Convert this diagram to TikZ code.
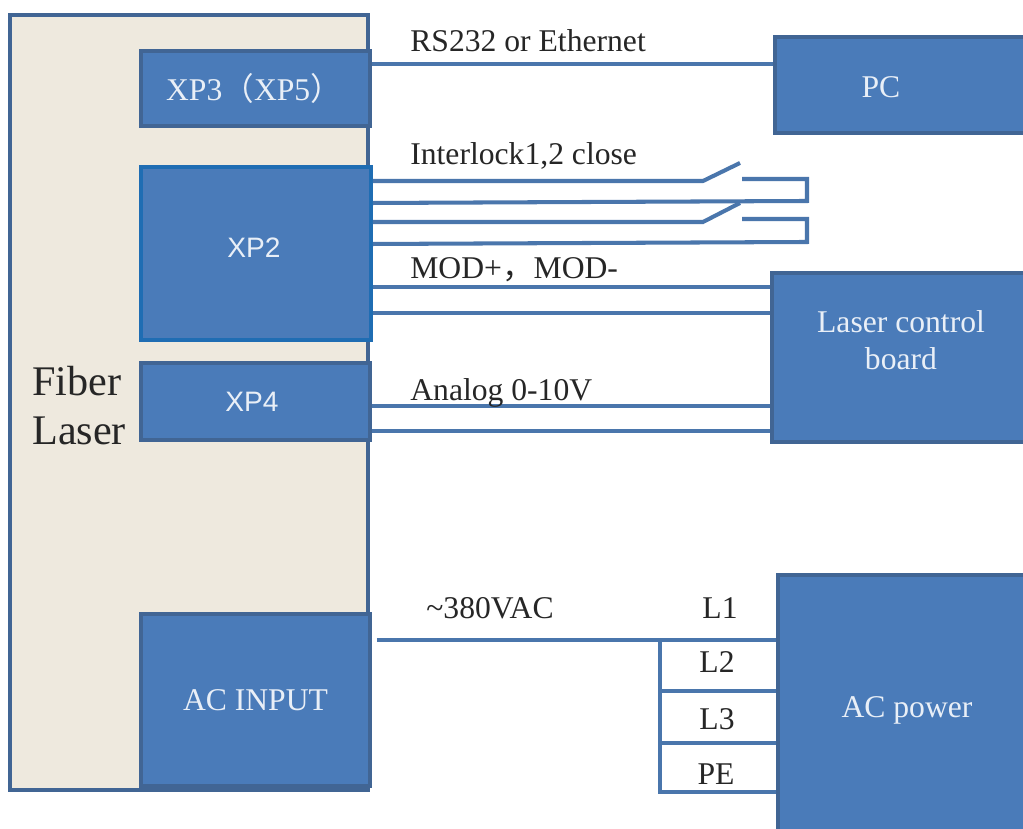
\documentclass[tikz,border=0pt]{standalone}
\usepackage{fontspec}
\setmainfont{Liberation Serif}
\newfontfamily\cjk{Noto Sans CJK SC}
\newfontfamily\labelsans{Liberation Sans}
\usepackage{xcolor}
\usetikzlibrary{calc,positioning}
\definecolor{boxfill}{HTML}{4A7BB9}
\definecolor{boxline}{HTML}{416594}
\definecolor{xpline}{HTML}{1F6DB3}
\definecolor{laserfill}{HTML}{EEE9DE}
\definecolor{wireblue}{HTML}{4A76AC}
\definecolor{boxtext}{HTML}{E9EFF7}
\definecolor{wiretext}{HTML}{262626}
\begin{document}
\begin{tikzpicture}[
  blockbox/.style={draw=boxline,line width=2.2pt,fill=boxfill,inner sep=0pt,text=boxtext,align=center,font=\fontsize{18}{21}\selectfont},
  blocktext/.style={text=boxtext,inner sep=0pt,align=center,font=\fontsize{18}{21}\selectfont},
  wirelabel/.style={anchor=base west,inner sep=0pt,text=wiretext,font=\fontsize{18}{21}\selectfont},
  phaselabel/.style={anchor=base,inner sep=0pt,text=wiretext,font=\fontsize{18}{21}\selectfont},
  wire/.style={draw=wireblue,line width=2.3pt,line join=miter}
]
\useasboundingbox (0,0) rectangle (20.46,16.58);
\fill[white] (0,0) rectangle (20.46,16.58);
% laser housing
\node[draw=boxline,line width=2.2pt,fill=laserfill,minimum width=7.16cm,minimum height=15.5cm] (laser) at (3.78,8.53) {};
\node[anchor=west,inner sep=0pt,text=wiretext,align=left,font=\fontsize{24}{28}\selectfont] (lasertext) at (0.64,8.47) {Fiber\\Laser};
\node[blockbox,minimum width=4.58cm,minimum height=1.5cm] (xp3) at (5.11,14.81) {};
\node[blocktext] (xp3text) at (5.08,14.81) {XP3{\cjk （}XP5{\cjk ）}};
\node[blockbox,draw=xpline,minimum width=4.6cm,minimum height=3.46cm,font=\labelsans\fontsize{16}{19}\selectfont] (xp2) at (5.12,11.51) {};
\node[blocktext,font=\labelsans\fontsize{16}{19}\selectfont] (xp2text) at (5.08,11.62) {XP2};
\node[blockbox,minimum width=4.58cm,minimum height=1.54cm] (xp4) at (5.11,8.55) {};
\node[blocktext,font=\labelsans\fontsize{16}{19}\selectfont] (xp4text) at (5.04,8.54) {XP4};
\node[blockbox,minimum width=4.58cm,minimum height=3.44cm] (acin) at (5.11,2.58) {AC INPUT};
% outside blocks, cut off by the page edge
\node[blockbox,minimum width=5.02cm,minimum height=1.92cm] (pc) at (18.01,14.88) {};
\node[blocktext] (pctext) at (17.62,14.84) {PC};
\node[blockbox,minimum width=5.08cm,minimum height=3.38cm] (board) at (17.98,9.43) {};
\node[blocktext] (boardtext) at (18.02,9.78) {Laser control\\board};
\node[blockbox,minimum width=4.96cm,minimum height=5.14cm] (power) at (18.04,2.51) {};
\node[blocktext] (powertext) at (18.14,2.38) {AC power};
% levels of the wires
\coordinate (rsline) at (10,15.30);
\coordinate (lockA) at (14.06,12.96);
\coordinate (lockAtip) at (14.80,13.32);
\coordinate (lockB) at (14.06,12.14);
\coordinate (lockBtip) at (14.80,12.52);
\coordinate (contactA) at (14.84,13.00);
\coordinate (cornerA) at (16.14,13.00);
\coordinate (returnA) at (16.14,12.56);
\coordinate (contactB) at (14.84,12.20);
\coordinate (cornerB) at (16.14,12.20);
\coordinate (returnB) at (16.14,11.74);
\coordinate (modA) at (10,10.84);
\coordinate (modB) at (10,10.32);
\coordinate (anaA) at (10,8.46);
\coordinate (anaB) at (10,7.96);
\coordinate (lineA) at (13.2,3.78);
\coordinate (lineB) at (13.2,2.76);
\coordinate (lineC) at (13.2,1.72);
\coordinate (lineD) at (13.2,0.74);
\draw[wire] (xp3.east |- rsline) -- (pc.west |- rsline);
\draw[wire] (xp2.east |- lockA) -- (lockA) -- (lockAtip);
\draw[wire] (contactA) -- (cornerA) -- (returnA) -- (xp2.east |- 0,12.52);
\draw[wire] (xp2.east |- lockB) -- (lockB) -- (lockBtip);
\draw[wire] (contactB) -- (cornerB) -- (returnB) -- (xp2.east |- 0,11.70);
\draw[wire] (xp2.east |- modA) -- (board.west |- modA);
\draw[wire] (xp2.east |- modB) -- (board.west |- modB);
\draw[wire] (xp4.east |- anaA) -- (board.west |- anaA);
\draw[wire] (xp4.east |- anaB) -- (board.west |- anaB);
\draw[wire,shorten <=0.1cm] (acin.east |- lineA) -- (power.west |- lineA);
\draw[wire] (lineA) -- (lineD) -- (power.west |- lineD);
\draw[wire] (lineB) -- (power.west |- lineB);
\draw[wire] (lineC) -- (power.west |- lineC);
% labels
\node[wirelabel] (rslabel) at (8.2,15.54) {RS232 or Ethernet};
\node[wirelabel] (locklabel) at (8.2,13.28) {Interlock1,2 close};
\node[wirelabel] (modlabel) at (8.2,11.0) {MOD+{\cjk ，}MOD-};
\node[wirelabel] (analabel) at (8.2,8.56) {Analog 0-10V};
\node[wirelabel] (vaclabel) at (8.52,4.2) {\textasciitilde380VAC};
\node[phaselabel] (lone) at (14.4,4.2) {L1};
\node[phaselabel] (ltwo) at (14.34,3.12) {L2};
\node[phaselabel] (lthree) at (14.34,1.98) {L3};
\node[phaselabel] (pe) at (14.32,0.88) {PE};
\end{tikzpicture}
\end{document}
